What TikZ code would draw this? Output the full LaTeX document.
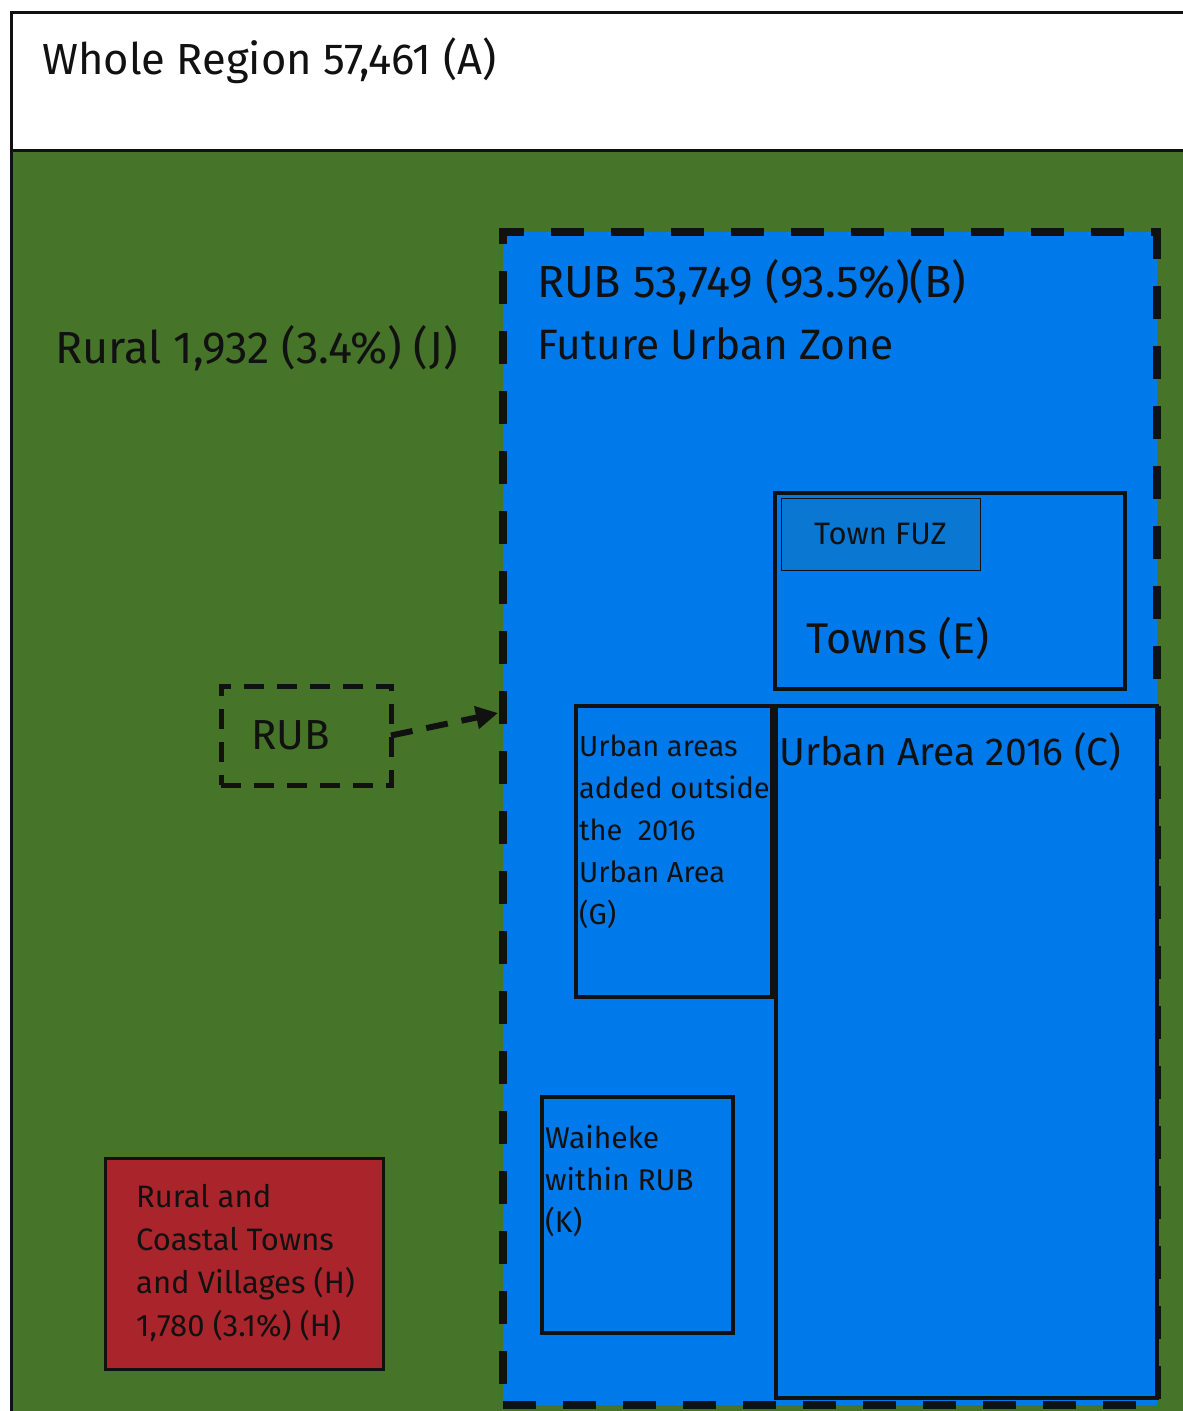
\documentclass[tikz,border=0pt]{standalone}
\usepackage{fontspec}
\setmainfont{Fira Sans}
\usetikzlibrary{arrows.meta}
\definecolor{regiongreen}{HTML}{467428}
\definecolor{rubblue}{HTML}{0079EA}
\definecolor{fuzblue}{HTML}{0A77D2}
\definecolor{villagered}{HTML}{A9252B}
\definecolor{inkline}{HTML}{111111}
\tikzset{
  area/.style={rectangle, inner sep=0pt, outer sep=0pt, anchor=north west},
  solidbox/.style={area, draw=inkline, line width=4pt, fill=rubblue},
  bigtext/.style={inner sep=0pt, anchor=west, font=\fontsize{45}{50}\selectfont, text=inkline},
  smalltext/.style={inner sep=0pt, anchor=north west, align=left, font=\fontsize{30}{42}\selectfont, text=inkline},
}
\begin{document}
\begin{tikzpicture}[x=1pt,y=-1pt]
\useasboundingbox (0,0) rectangle (1183,1411);
\fill[white] (0,0) rectangle (1183,1411);
% whole region
\node[area, fill=regiongreen, draw=inkline, line width=3pt, minimum width=1190pt, minimum height=1410pt] (A) at (11,12) {};
\node[area, fill=white, draw=inkline, line width=3pt, minimum width=1190pt, minimum height=138pt] (Ahead) at (11,12) {};
\node[bigtext, font=\fontsize{43.5}{50}\selectfont] (Atext) at (42,61) {Whole Region 57,461 (A)};
% rural
\node[bigtext] (Jtext) at (55,348) {Rural 1,932 (3.4\%) (J)};
% RUB big dashed
\node[area, fill=rubblue, draw=inkline, line width=8pt, dash pattern=on 33pt off 27pt, minimum width=654pt, minimum height=1173pt] (B) at (503,232) {};
\node[bigtext] (Btext) at (537,282) {RUB 53,749 (93.5\%)(B)};
\node[bigtext, font=\fontsize{42.5}{50}\selectfont] (FUZtext) at (537,344) {Future Urban Zone};
% Towns
\node[solidbox, minimum width=350pt, minimum height=196pt] (E) at (775,493) {};
\node[area, fill=fuzblue, draw=inkline, line width=1pt, minimum width=199pt, minimum height=72pt] (TF) at (781,498) {};
\node[inner sep=0pt, font=\fontsize{31}{36}\selectfont, text=inkline] (TFtext) at (TF.center) {Town FUZ};
\node[bigtext, font=\fontsize{43}{50}\selectfont] (Etext) at (806,638) {Towns (E)};
% Urban Area 2016
\node[solidbox, minimum width=381pt, minimum height=692pt] (C) at (776,706) {};
\node[bigtext, font=\fontsize{39}{50}\selectfont] (Ctext) at (779,752) {Urban Area 2016 (C)};
% G
\node[solidbox, minimum width=196pt, minimum height=291pt] (G) at (576,706) {};
\node[smalltext, font=\fontsize{29}{42}\selectfont] (Gtext) at (579,735) {Urban areas\\added outside\\the\ \ 2016\\Urban Area\\(G)};
% K
\node[solidbox, minimum width=191pt, minimum height=236pt] (K) at (542,1097) {};
\node[smalltext] (Ktext) at (545,1125) {Waiheke\\within RUB\\(K)};
% H
\node[area, fill=villagered, draw=inkline, line width=3pt, minimum width=278pt, minimum height=211pt] (H) at (105,1158) {};
\node[smalltext, font=\fontsize{31}{43}\selectfont] (Htext) at (136,1184) {Rural and\\Coastal Towns\\and Villages (H)\\1,780 (3.1\%) (H)};
% small RUB
\node[area, draw=inkline, line width=5pt, dash pattern=on 20pt off 13pt, minimum width=170pt, minimum height=99pt] (R) at (221,686) {};
\node[inner sep=0pt, font=\fontsize{42}{48}\selectfont, text=inkline] (Rtext) at (291,735) {RUB};
\coordinate (Rtip) at (498,713);
\draw[draw=inkline, line width=6pt, dash pattern=on 22pt off 14pt, -{Triangle[length=22pt,width=22pt]}] (R.east) -- (Rtip);
\end{tikzpicture}
\end{document}
